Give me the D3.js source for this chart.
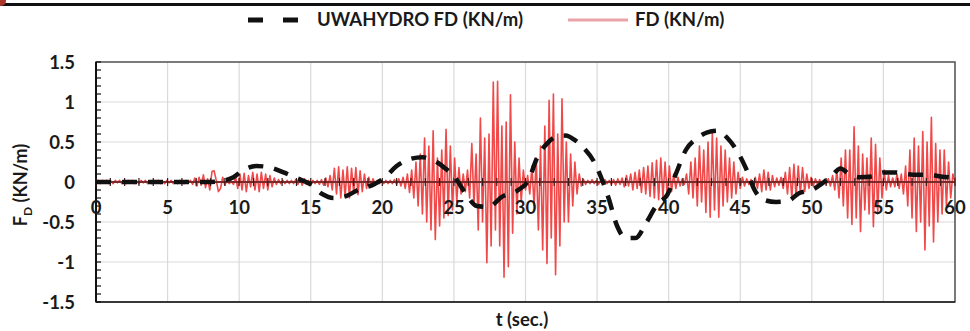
<!DOCTYPE html>
<html>
<head>
<meta charset="utf-8">
<script src="https://cdn.jsdelivr.net/npm/d3@7/dist/d3.min.js"></script>
<style>
  html, body { margin: 0; padding: 0; background: #fff; }
  svg { display: block; }
  text { font-family: Lato, "Open Sans", sans-serif; font-weight: 700; fill: #1a1a1a; }
</style>
</head>
<body>
<svg id="chart" width="970" height="331"></svg>
<script>
// Measured drag force FD (KN/m), sampled every 0.15 s from t = 0 to 60 s (one row = 3 s)
const fdStep = 0.15;
const fdValues = [
  0,0.02,-0.02,0.02,-0.01,0.02,-0.02,0.01,-0.02,0.02,-0.01,0.02,-0.02,0.01,-0.02,0.02,-0.01,0.02,-0.02,0.01,
  -0.02,0.02,-0.01,0.02,-0.02,0.01,-0.02,0.02,-0.01,0.02,-0.02,0.01,-0.02,0.02,-0.01,0.02,-0.02,0.01,-0.02,0.02,
  0.01,-0.02,0.02,-0.01,0.02,-0.03,0.05,-0.05,0.06,-0.04,0.09,-0.07,0.04,-0.1,0.13,0.14,0.02,-0.12,-0.08,0.06,
  -0.04,0.02,-0.02,0.01,-0.03,0.06,-0.08,0.1,-0.1,0.11,-0.12,0.08,-0.06,0.12,-0.1,0.1,-0.12,0.12,-0.08,0.1,
  -0.1,0.08,-0.06,0.05,-0.03,0.03,-0.02,0.02,-0.02,0.02,-0.02,0.02,-0.02,0.03,-0.03,0.05,-0.04,0.04,-0.03,0.02,
  -0.02,0.02,-0.02,0.02,-0.03,0.03,-0.04,0.05,-0.06,0.08,-0.1,0.17,-0.15,0.19,-0.2,0.15,-0.18,0.19,-0.2,0.17,
  -0.14,0.18,-0.16,0.14,-0.12,0.1,-0.08,0.06,-0.05,0.04,-0.03,0.02,-0.02,0.02,-0.02,0.02,-0.02,0.02,-0.02,0.03,
  -0.03,0.04,-0.05,0.06,-0.08,0.1,-0.13,0.15,-0.2,0.25,-0.3,0.35,-0.4,0.55,-0.5,0.45,-0.6,0.64,-0.72,0.3,
  -0.55,0.4,-0.45,0.66,-0.42,0.45,-0.35,0.3,-0.25,0.18,-0.15,0.1,-0.12,0.15,-0.2,0.48,-0.3,0.35,-0.6,0.8,
  -0.5,0.55,-1.01,0.6,-0.8,1.25,-0.6,1.26,-0.8,0.7,-1.19,0.75,-1.06,1.09,-0.64,0.5,-0.4,0.3,-0.25,0.15,
  -0.1,0.08,-0.15,0.2,-0.3,0.3,-0.6,0.45,-0.85,0.7,-1.02,1.02,-0.7,1.1,-1.16,0.6,-0.8,1.04,-0.5,0.5,
  -0.5,0.35,-0.3,0.25,-0.15,0.1,-0.05,0.03,-0.03,0.02,-0.02,0.03,-0.02,0.02,-0.03,0.02,-0.02,0.03,-0.02,0.02,
  -0.03,0.03,-0.04,0.04,-0.03,0.05,-0.06,0.08,-0.05,0.1,-0.1,0.12,-0.08,0.15,-0.13,0.18,-0.15,0.2,-0.18,0.24,
  -0.2,0.27,-0.22,0.3,-0.2,0.25,-0.18,0.2,-0.12,0.1,-0.08,0.06,-0.05,0.04,-0.03,0.1,-0.15,0.25,-0.2,0.3,
  -0.3,0.45,-0.25,0.4,-0.38,0.5,-0.44,0.62,-0.35,0.55,-0.44,0.45,-0.3,0.4,-0.25,0.3,-0.2,0.25,-0.15,0.12,
  -0.08,0.06,-0.05,0.04,-0.03,0.03,-0.04,0.06,-0.08,0.1,-0.12,0.15,-0.1,0.12,-0.1,0.08,-0.06,0.05,-0.04,0.06,
  -0.08,0.12,-0.15,0.18,-0.2,0.22,-0.18,0.2,-0.15,0.18,-0.12,0.1,-0.08,0.06,-0.05,0.04,-0.03,0.03,-0.03,0.02,
  -0.03,0.04,-0.05,0.08,-0.1,0.15,-0.2,0.3,-0.3,0.4,-0.45,0.4,-0.53,0.69,-0.45,0.45,-0.62,0.35,-0.35,0.3,
  -0.4,0.55,-0.56,0.47,-0.4,0.3,-0.2,0.15,-0.1,0.08,-0.06,0.05,-0.06,0.1,-0.08,0.1,-0.15,0.2,-0.3,0.4,
  -0.45,0.55,-0.62,0.45,-0.5,0.63,-0.85,0.5,-0.55,0.81,-0.75,0.48,-0.5,0.4,-0.4,0.4,-0.3,0.25,-0.2,0.1,
  0
];

// UWAHYDRO FD (KN/m) prediction
const uwaTimes = [0,1,2,3,4,5,6,7,8,9,9.6,10.3,11.2,12.2,13.1,14,15,15.8,16.6,17.4,18.4,19.4,
  20.2,21,22,22.8,23.6,24.4,25.1,25.8,26.6,27.4,28.4,29.5,30.2,30.8,31.5,32.2,32.8,33.4,
  34.1,34.8,35.3,35.8,36.4,37,37.7,38.4,39.2,39.9,40.5,41.2,42,42.7,43.4,44.1,44.8,45.4,46,46.6,
  47.5,48.3,49.1,50,50.7,51.4,52,52.6,53.3,54.2,55,55.8,56.6,57.4,58.2,59,60];
const uwaValues = [0,0,0,0,0,0,0,0,0,0.02,0.06,0.15,0.2,0.18,0.12,0.05,-0.03,-0.15,-0.2,-0.18,-0.09,-0.03,
  0.06,0.2,0.29,0.31,0.27,0.17,0.05,-0.14,-0.3,-0.31,-0.18,-0.1,0.02,0.3,0.48,0.57,0.58,0.53,
  0.42,0.25,0.05,-0.2,-0.55,-0.7,-0.7,-0.52,-0.28,-0.16,0.1,0.4,0.55,0.62,0.64,0.55,0.38,0.17,-0.1,-0.22,
  -0.25,-0.24,-0.14,-0.1,-0.02,0.08,0.17,0.1,0.06,0.07,0.12,0.12,0.1,0.09,0.09,0.07,0.05];

const xTicks = [0,5,10,15,20,25,30,35,40,45,50,55,60];
const yTicks = [-1.5,-1,-0.5,0,0.5,1,1.5];
const yTickLabels = ["-1.5","-1","-0.5","0","0.5","1","1.5"];
const seriesNames = ["UWAHYDRO FD (KN/m)", "FD (KN/m)"];

const svg = d3.select("#chart");
const x = d3.scaleLinear().domain([0, 60]).range([96, 955]);
const y = d3.scaleLinear().domain([-1.5, 1.5]).range([302, 62]);

// frame rule along the top edge
svg.append("rect").attr("x", 0).attr("y", 3).attr("width", 970).attr("height", 3).attr("fill", "#111");
svg.append("circle").attr("cx", 1).attr("cy", 1).attr("r", 5).attr("fill", "#a8382c");

// legend
const lg = svg.append("g");
lg.append("line").attr("x1", 248).attr("x2", 302).attr("y1", 20).attr("y2", 20)
  .attr("stroke", "#111").attr("stroke-width", 5).attr("stroke-dasharray", "15,20");
lg.append("text").attr("x", 317).attr("y", 26).attr("font-size", 18.5).text(seriesNames[0]);
lg.append("line").attr("x1", 568).attr("x2", 628).attr("y1", 20).attr("y2", 20)
  .attr("stroke", "#eba3aa").attr("stroke-width", 3);
lg.append("text").attr("x", 635).attr("y", 26).attr("font-size", 18.5).text(seriesNames[1]);

// gridlines
svg.append("g").selectAll("line").data(yTicks).join("line")
  .attr("x1", x(0)).attr("x2", x(60)).attr("y1", d => y(d)).attr("y2", d => y(d))
  .attr("stroke", "#d9d9d9").attr("stroke-width", 1.2);
svg.append("g").selectAll("line").data(xTicks).join("line")
  .attr("x1", d => x(d)).attr("x2", d => x(d)).attr("y1", y(1.5)).attr("y2", y(-1.5))
  .attr("stroke", "#d9d9d9").attr("stroke-width", 1.2);

// plot frame
svg.append("rect").attr("x", x(0)).attr("y", y(1.5)).attr("width", x(60) - x(0)).attr("height", y(-1.5) - y(1.5))
  .attr("fill", "none").attr("stroke", "#555").attr("stroke-width", 1.5);
svg.append("line").attr("x1", x(0)).attr("x2", x(0)).attr("y1", y(1.5)).attr("y2", y(-1.5))
  .attr("stroke", "#111").attr("stroke-width", 2);
svg.append("line").attr("x1", x(0)).attr("x2", x(60)).attr("y1", y(-1.5)).attr("y2", y(-1.5))
  .attr("stroke", "#222").attr("stroke-width", 1.5);

// y-axis minor ticks every 0.1, pointing inward
const yMinor = d3.range(-15, 16).map(i => i / 10);
svg.append("g").selectAll("line").data(yMinor).join("line")
  .attr("x1", x(0)).attr("x2", x(0) + 5).attr("y1", d => y(d)).attr("y2", d => y(d))
  .attr("stroke", "#111").attr("stroke-width", 1.2);

// measured FD signal
const fdData = fdValues.map((v, i) => [i * fdStep, v]);
svg.append("path").datum(fdData)
  .attr("d", d3.line().x(d => x(d[0])).y(d => y(d[1])))
  .attr("fill", "none").attr("stroke", "#ee3535").attr("stroke-width", 1.6)
  .attr("stroke-opacity", 0.9).attr("stroke-linejoin", "round");

// zero axis with crossing ticks every second
svg.append("line").attr("x1", x(0)).attr("x2", x(60)).attr("y1", y(0)).attr("y2", y(0))
  .attr("stroke", "#7a2a2a").attr("stroke-width", 1.8);
svg.append("g").selectAll("line").data(d3.range(0, 61)).join("line")
  .attr("x1", d => x(d)).attr("x2", d => x(d)).attr("y1", y(0) - 4).attr("y2", y(0) + 4)
  .attr("stroke", "#3a1a1a").attr("stroke-width", 1.2);

// tick labels
svg.append("g").selectAll("text").data(xTicks).join("text")
  .attr("x", d => x(d)).attr("y", y(0) + 32).attr("text-anchor", "middle").attr("font-size", 18.5)
  .text(d => d);
svg.append("g").selectAll("text").data(yTicks).join("text")
  .attr("x", 75).attr("y", d => y(d) + 7).attr("text-anchor", "end").attr("font-size", 18.5)
  .text((d, i) => yTickLabels[i]);

// UWAHYDRO prediction, dashed
const uwaData = uwaTimes.map((t, i) => [t, uwaValues[i]]);
svg.append("path").datum(uwaData)
  .attr("d", d3.line().x(d => x(d[0])).y(d => y(d[1])).curve(d3.curveMonotoneX))
  .attr("fill", "none").attr("stroke", "#111").attr("stroke-width", 4.5)
  .attr("stroke-dasharray", "15,11");

// axis titles
const yt = svg.append("text").attr("transform", "translate(27,185) rotate(-90)")
  .attr("text-anchor", "middle").attr("font-size", 18);
yt.append("tspan").text("F");
yt.append("tspan").attr("font-size", 12).attr("dy", 5).text("D");
yt.append("tspan").attr("dy", -5).text(" (KN/m)");
svg.append("text").attr("x", 522).attr("y", 326).attr("text-anchor", "middle").attr("font-size", 18.5)
  .text("t (sec.)");
</script>
</body>
</html>
